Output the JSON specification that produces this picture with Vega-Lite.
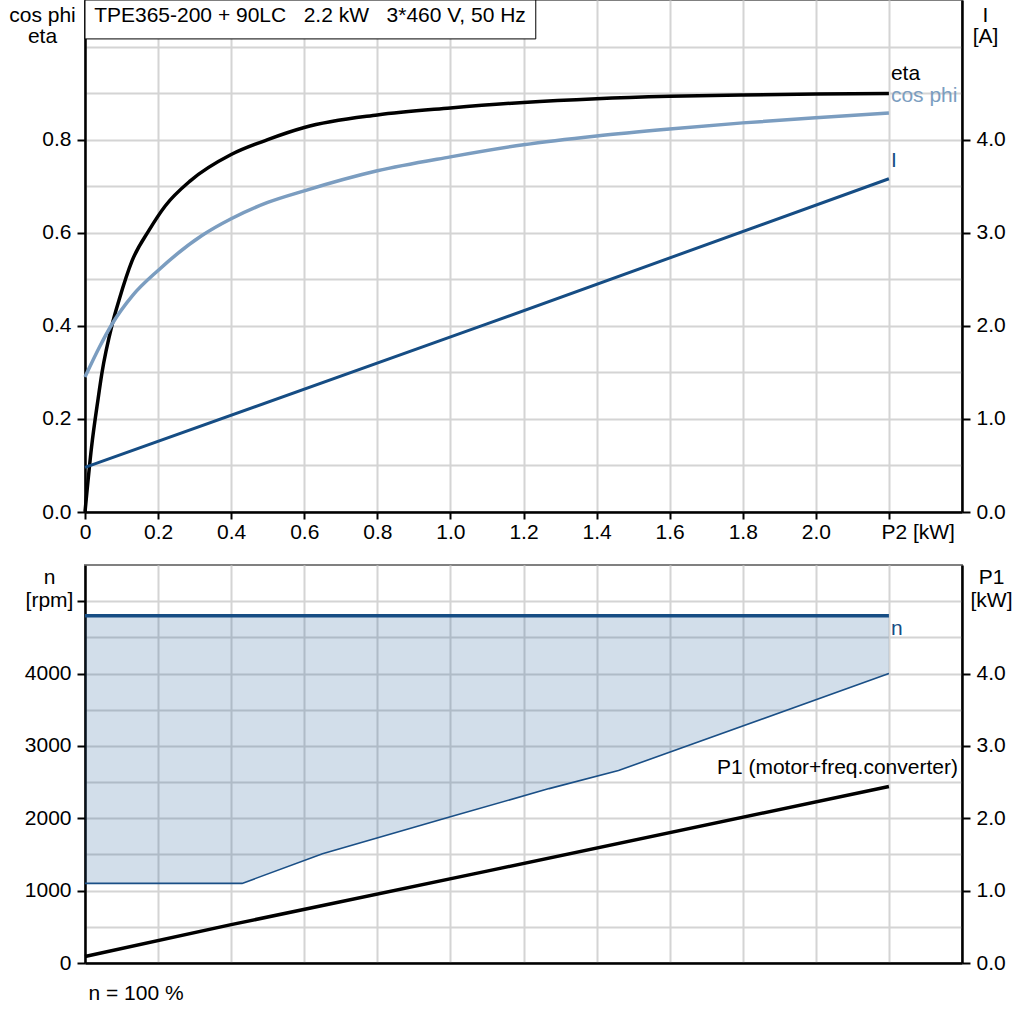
{
  "$schema": "https://vega.github.io/schema/vega-lite/v6.json",
  "description": "TPE365-200 + 90LC performance curves",
  "padding": {"left": 7, "top": -2, "right": 5, "bottom": 5},
  "background": "white",
  "config": {
    "font": "Liberation Sans",
    "view": {"stroke": "#808080", "strokeWidth": 2},
    "axis": {
      "labelFont": "Liberation Sans",
      "labelFontSize": 21,
      "labelColor": "black",
      "titleFont": "Liberation Sans",
      "titleFontSize": 21,
      "titleFontWeight": "normal",
      "titleColor": "black",
      "domainColor": "black",
      "domainWidth": 2.5,
      "tickColor": "black",
      "tickWidth": 2,
      "tickSize": 8,
      "gridColor": "#d4d4d4",
      "gridWidth": 2,
      "labelPadding": 6
    },
    "axisX": {"tickSize": 7, "labelPadding": 2},
    "text": {"font": "Liberation Sans", "fontSize": 21}
  },
  "datasets": {
    "effic": [
      {"series": "eta", "p2": 0, "v": 0},
      {"series": "eta", "p2": 0.018, "v": 0.14},
      {"series": "eta", "p2": 0.036, "v": 0.244},
      {"series": "eta", "p2": 0.046, "v": 0.297},
      {"series": "eta", "p2": 0.075, "v": 0.405},
      {"series": "eta", "p2": 0.093, "v": 0.455},
      {"series": "eta", "p2": 0.129, "v": 0.54},
      {"series": "eta", "p2": 0.175, "v": 0.605},
      {"series": "eta", "p2": 0.22, "v": 0.658},
      {"series": "eta", "p2": 0.289, "v": 0.712},
      {"series": "eta", "p2": 0.4, "v": 0.768},
      {"series": "eta", "p2": 0.5, "v": 0.8},
      {"series": "eta", "p2": 0.6, "v": 0.826},
      {"series": "eta", "p2": 0.8, "v": 0.853},
      {"series": "eta", "p2": 1.0, "v": 0.868},
      {"series": "eta", "p2": 1.2, "v": 0.88},
      {"series": "eta", "p2": 1.4, "v": 0.888},
      {"series": "eta", "p2": 1.6, "v": 0.893},
      {"series": "eta", "p2": 1.8, "v": 0.896},
      {"series": "eta", "p2": 2.0, "v": 0.898},
      {"series": "eta", "p2": 2.2, "v": 0.899},
      {"series": "cos phi", "p2": 0, "v": 0.29},
      {"series": "cos phi", "p2": 0.04, "v": 0.355},
      {"series": "cos phi", "p2": 0.075, "v": 0.405},
      {"series": "cos phi", "p2": 0.13, "v": 0.465},
      {"series": "cos phi", "p2": 0.2, "v": 0.519},
      {"series": "cos phi", "p2": 0.32, "v": 0.594},
      {"series": "cos phi", "p2": 0.4, "v": 0.63},
      {"series": "cos phi", "p2": 0.5, "v": 0.665},
      {"series": "cos phi", "p2": 0.6, "v": 0.69},
      {"series": "cos phi", "p2": 0.8, "v": 0.733},
      {"series": "cos phi", "p2": 1.0, "v": 0.763},
      {"series": "cos phi", "p2": 1.2, "v": 0.789},
      {"series": "cos phi", "p2": 1.4, "v": 0.808},
      {"series": "cos phi", "p2": 1.6, "v": 0.823},
      {"series": "cos phi", "p2": 1.8, "v": 0.836},
      {"series": "cos phi", "p2": 2.0, "v": 0.847},
      {"series": "cos phi", "p2": 2.2, "v": 0.857}
    ],
    "titleBox": [
      {"p2": 0, "p2e": 1.2336, "v": 1.1, "v2": 1.0164, "txt": "TPE365-200 + 90LC\u00a0\u00a0\u00a02.2 kW\u00a0\u00a0\u00a03*460 V, 50 Hz", "tx": 0.025, "ty": 1.066}
    ],
    "current": [
      {"p2": 0, "amp": 0.48},
      {"p2": 1.1, "amp": 2.02},
      {"p2": 2.2, "amp": 3.58}
    ],
    "speedBand": [
      {"p2": 0, "rpm": 1100, "hi": 4800},
      {"p2": 0.43, "rpm": 1100, "hi": 4800},
      {"p2": 0.65, "rpm": 1510, "hi": 4800},
      {"p2": 1.0, "rpm": 2020, "hi": 4800},
      {"p2": 1.27, "rpm": 2410, "hi": 4800},
      {"p2": 1.46, "rpm": 2660, "hi": 4800},
      {"p2": 2.2, "rpm": 4000, "hi": 4800}
    ],
    "speed": [
      {"p2": 0, "rpm": 4800},
      {"p2": 2.2, "rpm": 4800}
    ],
    "power": [
      {"p2": 0, "kw": 0.09},
      {"p2": 0.4, "kw": 0.53},
      {"p2": 1.1, "kw": 1.27},
      {"p2": 2.2, "kw": 2.44}
    ]
  },
  "spacing": 53,
  "bounds": "flush",
  "vconcat": [
    {
      "width": 877,
      "height": 512,
      "encoding": {
        "x": {
          "field": "p2",
          "type": "quantitative",
          "scale": {"domain": [0, 2.4], "nice": false, "zero": false},
          "axis": {
            "title": null,
            "values": [0, 0.2, 0.4, 0.6, 0.8, 1, 1.2, 1.4, 1.6, 1.8, 2, 2.2],
            "grid": true,
            "labelFlush": false,
            "labelExpr": "datum.value > 2.1 ? 'P2 [kW]' : datum.value == 0 ? '0' : format(datum.value, '.1f')",
            "labelAlign": {"condition": {"test": "datum.value > 2.1", "value": "left"}, "value": "center"},
            "labelOffset": {"condition": {"test": "datum.value > 2.1", "value": -8}, "value": 0}
          }
        }
      },
      "layer": [
        {
          "encoding": {
            "y": {
              "field": "v",
              "type": "quantitative",
              "scale": {"domain": [0, 1.1], "nice": false},
              "axis": {
                "orient": "left",
                "values": [0, 0.2, 0.4, 0.6, 0.8],
                "grid": false,
                "labelExpr": "format(datum.value, '.1f')",
                "title": ["cos phi", "eta"],
                "titleAngle": 0,
                "titleAlign": "center",
                "titleBaseline": "top",
                "titleLineHeight": 21,
                "titleX": -43,
                "titleY": 4
              }
            }
          },
          "layer": [
            {
              "data": {"name": "effic"},
              "mark": {"type": "line", "strokeWidth": 3.5, "interpolate": "monotone"},
              "encoding": {
                "color": {
                  "field": "series",
                  "type": "nominal",
                  "scale": {"domain": ["eta", "cos phi"], "range": ["#000000", "#7b9dc0"]},
                  "legend": null
                }
              }
            },
            {
              "data": {"name": "effic"},
              "transform": [{"filter": "datum.series == 'eta' && datum.p2 == 2.2"}],
              "mark": {"type": "text", "align": "left", "baseline": "middle", "dx": 2, "dy": -20, "color": "#000000"},
              "encoding": {"text": {"field": "series"}}
            },
            {
              "data": {"name": "effic"},
              "transform": [{"filter": "datum.series == 'cos phi' && datum.p2 == 2.2"}],
              "mark": {"type": "text", "align": "left", "baseline": "middle", "dx": 2, "dy": -17, "color": "#7b9dc0"},
              "encoding": {"text": {"field": "series"}}
            },
            {
              "data": {"name": "titleBox"},
              "mark": {"type": "rect", "fill": "white", "stroke": "black", "strokeWidth": 1},
              "encoding": {
                "x2": {"field": "p2e"},
                "y2": {"field": "v2"}
              }
            },
            {
              "data": {"name": "titleBox"},
              "mark": {"type": "text", "align": "left", "baseline": "middle", "color": "black"},
              "encoding": {
                "x": {"field": "tx", "type": "quantitative"},
                "y": {"field": "ty", "type": "quantitative"},
                "text": {"field": "txt"}
              }
            }
          ]
        },
        {
          "data": {"name": "current"},
          "encoding": {
            "y": {
              "field": "amp",
              "type": "quantitative",
              "scale": {"domain": [0, 5.5], "nice": false},
              "axis": {
                "orient": "right",
                "values": [0, 0.5, 1, 1.5, 2, 2.5, 3, 3.5, 4, 4.5, 5],
                "grid": true,
                "labelExpr": "(datum.value % 1 == 0 && datum.value <= 4) ? format(datum.value, '.1f') : ''",
                "tickOpacity": {"condition": {"test": "datum.value % 1 == 0 && datum.value <= 4", "value": 1}, "value": 0},
                "title": ["I", "[A]"],
                "titleAngle": 0,
                "titleAlign": "center",
                "titleBaseline": "top",
                "titleLineHeight": 21,
                "titleX": 23,
                "titleY": 4
              }
            }
          },
          "layer": [
            {"mark": {"type": "line", "strokeWidth": 3, "color": "#164d84"}},
            {
              "transform": [{"filter": "datum.p2 == 2.2"}],
              "mark": {"type": "text", "align": "left", "baseline": "middle", "dx": 2, "dy": -18, "color": "#164d84", "text": "I"}
            }
          ]
        }
      ],
      "resolve": {"scale": {"y": "independent"}}
    },
    {
      "width": 877,
      "height": 398,
      "encoding": {
        "x": {
          "field": "p2",
          "type": "quantitative",
          "scale": {"domain": [0, 2.4], "nice": false, "zero": false},
          "axis": {
            "values": [0, 0.2, 0.4, 0.6, 0.8, 1, 1.2, 1.4, 1.6, 1.8, 2, 2.2],
            "grid": true,
            "labels": false,
            "ticks": false,
            "title": "n = 100 %",
            "titleAlign": "left",
            "titleBaseline": "middle",
            "titleX": 3,
            "titleY": 30
          }
        }
      },
      "layer": [
        {
          "encoding": {
            "y": {
              "field": "rpm",
              "type": "quantitative",
              "scale": {"domain": [0, 5500], "nice": false},
              "axis": {
                "orient": "left",
                "values": [0, 1000, 2000, 3000, 4000, 5000],
                "grid": false,
                "labelExpr": "datum.value <= 4000 ? format(datum.value, 'd') : ''",
                "title": ["n", "[rpm]"],
                "titleAngle": 0,
                "titleAlign": "center",
                "titleBaseline": "top",
                "titleLineHeight": 23,
                "titleX": -36,
                "titleY": 1
              }
            }
          },
          "layer": [
            {
              "data": {"name": "speedBand"},
              "mark": {"type": "area", "color": "#1f5a96", "opacity": 0.2},
              "encoding": {"y2": {"field": "hi"}}
            },
            {
              "data": {"name": "speedBand"},
              "mark": {"type": "line", "strokeWidth": 1.6, "color": "#1a4f86"}
            },
            {
              "data": {"name": "speed"},
              "mark": {"type": "line", "strokeWidth": 3.5, "color": "#164d84"}
            },
            {
              "data": {"name": "speed"},
              "transform": [{"filter": "datum.p2 == 2.2"}],
              "mark": {"type": "text", "align": "left", "baseline": "middle", "dx": 2, "dy": 13, "color": "#164d84", "text": "n"}
            }
          ]
        },
        {
          "data": {"name": "power"},
          "encoding": {
            "y": {
              "field": "kw",
              "type": "quantitative",
              "scale": {"domain": [0, 5.5], "nice": false},
              "axis": {
                "orient": "right",
                "values": [0, 0.5, 1, 1.5, 2, 2.5, 3, 3.5, 4, 4.5, 5],
                "grid": true,
                "labelExpr": "(datum.value % 1 == 0 && datum.value <= 4) ? format(datum.value, '.1f') : ''",
                "tickOpacity": {"condition": {"test": "datum.value % 1 == 0 && datum.value <= 4", "value": 1}, "value": 0},
                "title": ["P1", "[kW]"],
                "titleAngle": 0,
                "titleAlign": "center",
                "titleBaseline": "top",
                "titleLineHeight": 23,
                "titleX": 29,
                "titleY": 1
              }
            }
          },
          "layer": [
            {"mark": {"type": "line", "strokeWidth": 3.5, "color": "#000000"}},
            {
              "transform": [{"filter": "datum.p2 == 2.2"}],
              "mark": {"type": "text", "align": "right", "baseline": "middle", "dx": 69, "dy": -18, "color": "black", "text": "P1 (motor+freq.converter)"}
            }
          ]
        }
      ],
      "resolve": {"scale": {"y": "independent"}}
    }
  ]
}
